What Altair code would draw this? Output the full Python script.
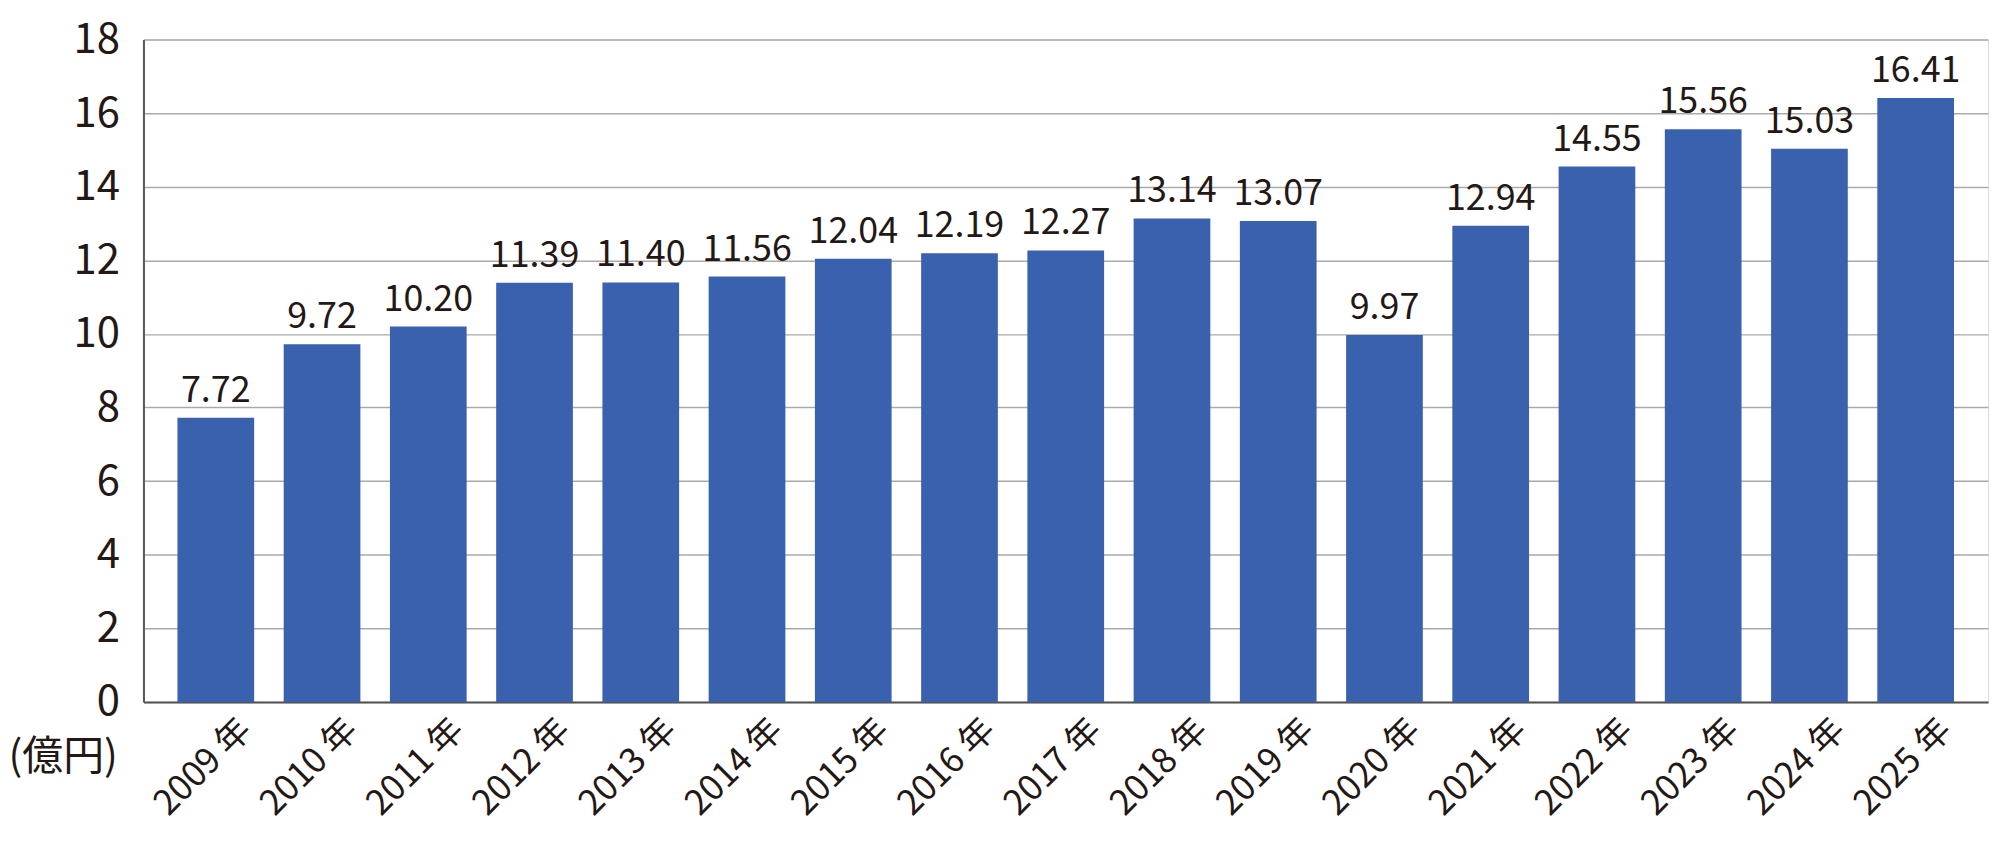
import altair as alt
import pandas as pd

years = ["2009 年", "2010 年", "2011 年", "2012 年", "2013 年", "2014 年", "2015 年", "2016 年",
         "2017 年", "2018 年", "2019 年", "2020 年", "2021 年", "2022 年", "2023 年", "2024 年", "2025 年"]
values = [7.72, 9.72, 10.20, 11.39, 11.40, 11.56, 12.04, 12.19,
          12.27, 13.14, 13.07, 9.97, 12.94, 14.55, 15.56, 15.03, 16.41]
labels = ["7.72", "9.72", "10.20", "11.39", "11.40", "11.56", "12.04", "12.19",
          "12.27", "13.14", "13.07", "9.97", "12.94", "14.55", "15.56", "15.03", "16.41"]
y_ticks = [0, 2, 4, 6, 8, 10, 12, 14, 16, 18]

df = pd.DataFrame({"year": years, "value": values, "label": labels})

FONT = "Noto Sans CJK JP"

x_enc = alt.X(
    "year:N", sort=years, title=None,
    scale=alt.Scale(paddingInner=0.278, paddingOuter=0.32),
    axis=alt.Axis(labelAngle=-45, labelAlign="right", labelBaseline="middle",
                  labelFont=FONT, labelFontSize=35, labelColor="#231815",
                  labelOffset=30, labelPadding=22, ticks=False,
                  domain=True, domainColor="#555555", domainWidth=2, grid=False),
)
y_enc = alt.Y(
    "value:Q", title="(億円)",
    scale=alt.Scale(domain=[0, 18], nice=False),
    axis=alt.Axis(values=y_ticks, labelFont=FONT, labelFontSize=42, labelColor="#231815",
                  labelPadding=24, ticks=False, domain=True, domainColor="#555555",
                  domainWidth=2, grid=True, gridColor="#aaaaaa", gridWidth=1.5,
                  titleAngle=0, titleAlign="left", titleBaseline="alphabetic",
                  titleX=-136, titleY=733, titleFont=FONT, titleFontSize=41,
                  titleFontWeight="normal", titleColor="#231815"),
)

bars = alt.Chart(df).mark_bar(color="#3a61ae").encode(x=x_enc, y=y_enc)
text = alt.Chart(df).mark_text(font=FONT, fontSize=36, color="#231815",
                               baseline="alphabetic", dy=-16).encode(
    x=alt.X("year:N", sort=years), y="value:Q", text="label:N")

chart = (bars + text).properties(
    width=1852, height=665,
    autosize=alt.AutoSizeParams(type="none"),
    padding={"left": 136, "top": 30, "right": 4, "bottom": 145},
).configure_view(stroke=None).configure(background="white")

chart.save("out.html", embed_options={"renderer": "svg", "actions": False})
